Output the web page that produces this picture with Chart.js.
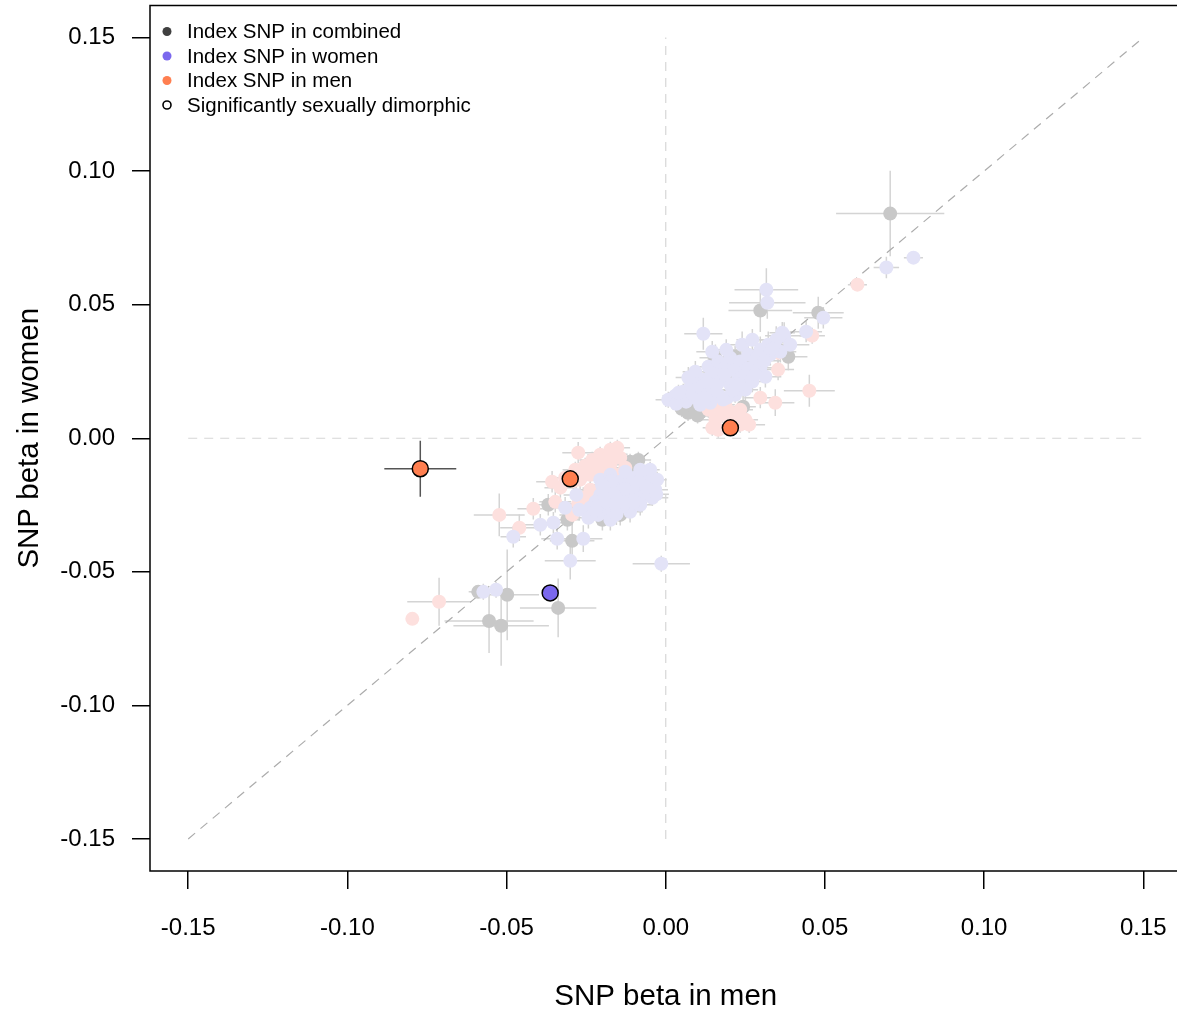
<!DOCTYPE html>
<html><head><meta charset="utf-8">
<script src="https://cdn.jsdelivr.net/npm/chart.js@4.4.1/dist/chart.umd.min.js"></script>
<style>html,body{margin:0;padding:0;overflow:hidden;background:#fff}canvas{display:block;position:absolute;left:0;top:-4px}</style>
</head><body>
<canvas id="c" width="1191" height="1019"></canvas>
<script>
// ---------- data (beta men, beta women, half-width men, half-width women) ----------
const tickValues = [-0.15, -0.10, -0.05, 0.00, 0.05, 0.10, 0.15];
const axisMin = -0.162, axisMax = 0.162;
const xTitle = 'SNP beta in men';
const yTitle = 'SNP beta in women';
const legendLabels = ['Index SNP in combined', 'Index SNP in women', 'Index SNP in men', 'Significantly sexually dimorphic'];
const legendColors = ['#404040', '#7b68ee', '#ff7f50', null];

const refDiagonal = [[-0.15, -0.15], [0.15, 0.15]];
const refVertical = [[0, -0.15], [0, 0.15]];
const refHorizontal = [[-0.15, 0], [0.15, 0]];

const combinedSNPs = [
  [0.0705, 0.0841, 0.017, 0.016], [0.0297, 0.0478, 0.010, 0.008], [0.0479, 0.0470, 0.008, 0.006],
  [0.0385, 0.0305, 0.006, 0.005], [0.0156, 0.0301, 0.005, 0.005], [0.0218, 0.0305, 0.004, 0.004],
  [0.0077, 0.0107, 0.004, 0.003], [0.0108, 0.0096, 0.004, 0.003], [0.0243, 0.0118, 0.004, 0.004],
  [0.0061, 0.0125, 0.003, 0.003], [0.0344, 0.0346, 0.005, 0.004], [0.0130, 0.0110, 0.003, 0.003],
  [0.0070, 0.0095, 0.003, 0.003], [0.0100, 0.0085, 0.003, 0.003], [0.0050, 0.0110, 0.003, 0.003],
  [-0.0112, -0.0088, 0.004, 0.003], [-0.0086, -0.0081, 0.004, 0.003], [-0.0199, -0.0305, 0.005, 0.004],
  [-0.0294, -0.0384, 0.007, 0.007], [-0.0369, -0.0249, 0.005, 0.004], [-0.0309, -0.0305, 0.004, 0.004],
  [-0.0143, -0.0287, 0.004, 0.004], [-0.0589, -0.0575, 0.003, 0.002], [-0.0498, -0.0586, 0.010, 0.017],
  [-0.0338, -0.0635, 0.012, 0.011], [-0.0555, -0.0684, 0.014, 0.012], [-0.0517, -0.0702, 0.015, 0.015],
  [-0.0050, -0.0140, 0.003, 0.003], [-0.0100, -0.0100, 0.003, 0.003]
];

const womenSNPs = [
  [0.0778, 0.0676, 0.003, 0.002], [0.0693, 0.0639, 0.004, 0.004], [0.0495, 0.0451, 0.006, 0.004],
  [0.0316, 0.0556, 0.010, 0.008], [0.0319, 0.0507, 0.012, 0.006], [0.0441, 0.0399, 0.005, 0.004],
  [0.0366, 0.0395, 0.004, 0.004], [0.0118, 0.0391, 0.006, 0.006],
  [0.0008, 0.0144, 0.004, 0.003], [0.0030, 0.0159, 0.004, 0.003], [0.0055, 0.0174, 0.004, 0.003],
  [0.0077, 0.0189, 0.003, 0.003], [0.0099, 0.0204, 0.004, 0.004], [0.0033, 0.0129, 0.003, 0.003],
  [0.0064, 0.0137, 0.003, 0.003], [0.0093, 0.0152, 0.004, 0.003], [0.0118, 0.0167, 0.004, 0.004],
  [0.0146, 0.0182, 0.004, 0.003], [0.0121, 0.0219, 0.005, 0.004], [0.0146, 0.0238, 0.004, 0.004],
  [0.0171, 0.0257, 0.005, 0.004], [0.0134, 0.0268, 0.005, 0.004], [0.0165, 0.0287, 0.004, 0.004],
  [0.0190, 0.0272, 0.004, 0.004], [0.0203, 0.0301, 0.005, 0.004], [0.0178, 0.0219, 0.004, 0.003],
  [0.0203, 0.0200, 0.004, 0.004], [0.0228, 0.0227, 0.004, 0.004], [0.0250, 0.0249, 0.005, 0.004],
  [0.0218, 0.0163, 0.004, 0.003], [0.0250, 0.0182, 0.004, 0.004], [0.0272, 0.0212, 0.005, 0.004],
  [0.0234, 0.0287, 0.005, 0.004], [0.0259, 0.0313, 0.005, 0.004], [0.0281, 0.0275, 0.005, 0.004],
  [0.0297, 0.0331, 0.005, 0.005], [0.0322, 0.0350, 0.006, 0.005], [0.0347, 0.0369, 0.005, 0.005],
  [0.0372, 0.0384, 0.006, 0.005], [0.0328, 0.0313, 0.005, 0.004], [0.0360, 0.0324, 0.005, 0.004],
  [0.0391, 0.0350, 0.006, 0.005], [0.0313, 0.0230, 0.005, 0.004], [0.0240, 0.0350, 0.006, 0.005],
  [0.0272, 0.0369, 0.005, 0.004], [0.0190, 0.0331, 0.005, 0.004], [0.0165, 0.0163, 0.004, 0.003],
  [0.0193, 0.0152, 0.004, 0.003], [0.0297, 0.0264, 0.005, 0.004], [0.0093, 0.0249, 0.004, 0.004],
  [0.0146, 0.0324, 0.005, 0.004], [0.0108, 0.0125, 0.003, 0.003], [0.0140, 0.0133, 0.003, 0.003],
  [0.0071, 0.0227, 0.004, 0.004], [0.0040, 0.0170, 0.003, 0.003], [0.0085, 0.0165, 0.004, 0.003],
  [0.0110, 0.0190, 0.004, 0.003], [0.0130, 0.0210, 0.004, 0.003], [0.0160, 0.0200, 0.004, 0.003],
  [0.0185, 0.0240, 0.004, 0.004], [0.0215, 0.0255, 0.004, 0.004], [0.0240, 0.0230, 0.004, 0.004],
  [0.0260, 0.0260, 0.005, 0.004], [0.0285, 0.0300, 0.005, 0.004], [0.0310, 0.0290, 0.005, 0.004],
  [0.0335, 0.0335, 0.005, 0.004], [0.0210, 0.0180, 0.004, 0.003], [0.0120, 0.0150, 0.003, 0.003],
  [0.0180, 0.0145, 0.004, 0.003], [0.0230, 0.0200, 0.004, 0.003], [0.0280, 0.0240, 0.005, 0.004],
  [-0.0479, -0.0369, 0.004, 0.004], [-0.0341, -0.0376, 0.005, 0.004], [-0.0300, -0.0459, 0.008, 0.007],
  [-0.0014, -0.0470, 0.009, 0.003], [-0.0259, -0.0376, 0.006, 0.005], [-0.0316, -0.0260, 0.004, 0.004],
  [-0.0272, -0.0268, 0.004, 0.004], [-0.0394, -0.0324, 0.005, 0.004], [-0.0353, -0.0316, 0.004, 0.004],
  [-0.0281, -0.0212, 0.004, 0.004], [-0.0573, -0.0575, 0.004, 0.003], [-0.0533, -0.0567, 0.004, 0.003],
  [-0.0049, -0.0163, 0.003, 0.003], [-0.0033, -0.0193, 0.004, 0.003], [-0.0064, -0.0148, 0.003, 0.003],
  [-0.0080, -0.0174, 0.003, 0.003], [-0.0096, -0.0148, 0.003, 0.003], [-0.0118, -0.0155, 0.004, 0.003],
  [-0.0143, -0.0163, 0.004, 0.003], [-0.0168, -0.0174, 0.004, 0.004], [-0.0190, -0.0193, 0.004, 0.004],
  [-0.0206, -0.0212, 0.004, 0.004], [-0.0221, -0.0238, 0.004, 0.004], [-0.0237, -0.0260, 0.005, 0.004],
  [-0.0243, -0.0298, 0.005, 0.004], [-0.0212, -0.0287, 0.004, 0.004], [-0.0181, -0.0268, 0.004, 0.004],
  [-0.0159, -0.0249, 0.004, 0.004], [-0.0127, -0.0230, 0.004, 0.003], [-0.0096, -0.0212, 0.004, 0.003],
  [-0.0064, -0.0212, 0.004, 0.003], [-0.0042, -0.0223, 0.005, 0.003], [-0.0112, -0.0275, 0.004, 0.004],
  [-0.0174, -0.0305, 0.004, 0.004], [-0.0206, -0.0155, 0.004, 0.003], [-0.0080, -0.0249, 0.004, 0.004],
  [-0.0149, -0.0200, 0.004, 0.003], [-0.0174, -0.0137, 0.003, 0.003], [-0.0127, -0.0125, 0.003, 0.003],
  [-0.0080, -0.0118, 0.003, 0.003], [-0.0049, -0.0118, 0.003, 0.003], [-0.0027, -0.0155, 0.003, 0.003],
  [-0.0100, -0.0180, 0.003, 0.003], [-0.0130, -0.0190, 0.004, 0.003], [-0.0160, -0.0215, 0.004, 0.003],
  [-0.0190, -0.0240, 0.004, 0.004], [-0.0220, -0.0270, 0.004, 0.004], [-0.0135, -0.0255, 0.004, 0.004],
  [-0.0100, -0.0240, 0.004, 0.003], [-0.0060, -0.0185, 0.003, 0.003], [-0.0030, -0.0210, 0.004, 0.003],
  [-0.0170, -0.0160, 0.003, 0.003], [-0.0200, -0.0175, 0.004, 0.003], [-0.0155, -0.0285, 0.004, 0.004]
];

const menSNPs = [
  [0.0602, 0.0575, 0.003, 0.002], [0.0451, 0.0178, 0.008, 0.006], [0.0344, 0.0133, 0.006, 0.005],
  [0.0297, 0.0152, 0.005, 0.004], [0.0262, 0.0051, 0.005, 0.003], [0.0353, 0.0257, 0.005, 0.004],
  [0.0353, 0.0320, 0.004, 0.004], [0.0460, 0.0384, 0.004, 0.003],
  [0.0134, 0.0107, 0.003, 0.003], [0.0156, 0.0069, 0.004, 0.003], [0.0178, 0.0088, 0.004, 0.003],
  [0.0218, 0.0077, 0.004, 0.003], [0.0234, 0.0107, 0.004, 0.003], [0.0250, 0.0069, 0.004, 0.003],
  [0.0146, 0.0039, 0.003, 0.003], [0.0187, 0.0125, 0.003, 0.003], [0.0165, 0.0032, 0.003, 0.003],
  [0.0234, 0.0051, 0.004, 0.003], [0.0200, 0.0100, 0.003, 0.003], [0.0170, 0.0110, 0.003, 0.003],
  [-0.0152, -0.0036, 0.004, 0.003], [-0.0174, -0.0043, 0.004, 0.003], [-0.0206, -0.0062, 0.004, 0.003],
  [-0.0231, -0.0081, 0.004, 0.003], [-0.0253, -0.0103, 0.004, 0.003], [-0.0275, -0.0054, 0.005, 0.004],
  [-0.0206, -0.0118, 0.004, 0.003], [-0.0237, -0.0137, 0.004, 0.003], [-0.0174, -0.0099, 0.004, 0.003],
  [-0.0143, -0.0073, 0.004, 0.003], [-0.0127, -0.0110, 0.004, 0.003], [-0.0269, -0.0155, 0.004, 0.004],
  [-0.0237, -0.0193, 0.004, 0.003], [-0.0284, -0.0118, 0.004, 0.003], [-0.0193, -0.0174, 0.004, 0.003],
  [-0.0221, -0.0219, 0.004, 0.003], [-0.0259, -0.0223, 0.004, 0.004], [-0.0331, -0.0185, 0.005, 0.004],
  [-0.0357, -0.0163, 0.005, 0.004], [-0.0316, -0.0148, 0.004, 0.003], [-0.0159, -0.0137, 0.004, 0.003],
  [-0.0275, -0.0245, 0.004, 0.004], [-0.0294, -0.0287, 0.004, 0.004], [-0.0347, -0.0238, 0.005, 0.004],
  [-0.0190, -0.0080, 0.004, 0.003], [-0.0220, -0.0100, 0.004, 0.003], [-0.0160, -0.0060, 0.004, 0.003],
  [-0.0250, -0.0130, 0.004, 0.003], [-0.0290, -0.0160, 0.004, 0.003],
  [-0.0523, -0.0287, 0.008, 0.008], [-0.0460, -0.0335, 0.006, 0.005], [-0.0416, -0.0264, 0.005, 0.004],
  [-0.0712, -0.0612, 0.010, 0.009], [-0.0796, -0.0676, 0.002, 0.002]
];

const dimorphicMenSNPs = [
  [0.0203, 0.0039, 0.002, 0.002], [-0.0300, -0.0152, 0.002, 0.002], [-0.0771, -0.0114, 0.0113, 0.0105]
];
const dimorphicWomenSNPs = [
  [-0.0363, -0.0579, 0.002, 0.002]
];

// ---------- helpers ----------
const toPts = arr => arr.map(d => ({x: d[0], y: d[1], ex: d[2], ey: d[3]}));
const toLine = arr => arr.map(d => ({x: d[0], y: d[1]}));
const FONT = '"Liberation Sans", Arial, Helvetica, sans-serif';

const errorBars = {
  id: 'errorBars',
  beforeDatasetsDraw(chart) {
    const {ctx} = chart;
    const xs = chart.scales.x, ys = chart.scales.y;
    const list = chart.data.datasets.filter(d => d.errorColor).sort((a, b) => a.errorLayer - b.errorLayer);
    ctx.save();
    ctx.beginPath();
    ctx.rect(chart.chartArea.left, chart.chartArea.top, chart.chartArea.width, chart.chartArea.height);
    ctx.clip();
    list.forEach(ds => {
      ctx.strokeStyle = ds.errorColor;
      ctx.lineWidth = ds.errorWidth;
      ds.data.forEach(p => {
        const px = xs.getPixelForValue(p.x), py = ys.getPixelForValue(p.y);
        ctx.beginPath();
        ctx.moveTo(xs.getPixelForValue(p.x - p.ex), py);
        ctx.lineTo(xs.getPixelForValue(p.x + p.ex), py);
        ctx.moveTo(px, ys.getPixelForValue(p.y - p.ey));
        ctx.lineTo(px, ys.getPixelForValue(p.y + p.ey));
        ctx.stroke();
      });
    });
    ctx.restore();
  }
};

const frameAndLegend = {
  id: 'frameAndLegend',
  afterDraw(chart) {
    const {ctx, chartArea: a} = chart;
    ctx.save();
    ctx.strokeStyle = '#000';
    ctx.lineWidth = 1.5;
    ctx.strokeRect(a.left, a.top, a.right - a.left, a.bottom - a.top);
    ctx.font = '20.5px ' + FONT;
    ctx.textBaseline = 'middle';
    ctx.textAlign = 'left';
    legendLabels.forEach((lab, i) => {
      const cy = a.top + 26 + i * 24.5;
      const cx = a.left + 17;
      ctx.beginPath();
      ctx.arc(cx, cy, 4.5, 0, Math.PI * 2);
      if (legendColors[i]) {
        ctx.fillStyle = legendColors[i];
        ctx.fill();
      } else {
        ctx.beginPath();
        ctx.lineWidth = 1.6;
        ctx.strokeStyle = '#000';
        ctx.arc(cx, cy, 4, 0, Math.PI * 2);
        ctx.stroke();
      }
      ctx.fillStyle = '#000';
      ctx.fillText(lab, a.left + 37, cy + 1);
    });
    ctx.restore();
  }
};

const refLineStyle = (color) => ({
  type: 'line', showLine: true, borderColor: color, borderWidth: 1.2, borderDash: [9, 7],
  pointRadius: 0, pointHoverRadius: 0, fill: false, order: 10
});

const scaleOpts = (title, isX) => ({
  type: 'linear', min: axisMin, max: axisMax,
  afterBuildTicks: s => { s.ticks = tickValues.map(v => ({value: v})); },
  afterFit: s => {
    if (isX) s.height = 144; else s.width = 150;
    s.paddingTop = 0; s.paddingBottom = 0; s.paddingLeft = 0; s.paddingRight = 0;
  },
  ticks: {
    color: '#000', font: {family: FONT, size: 24}, padding: isX ? 25 : 17,
    callback: v => Number(v).toFixed(2)
  },
  grid: {drawOnChartArea: false, drawTicks: true, tickLength: 18, color: '#000', lineWidth: 1.5},
  border: {display: false},
  title: {
    display: true, text: title, color: '#000', font: {family: FONT, size: 29.5},
    padding: isX ? {top: 0, bottom: 0} : {top: 12, bottom: 0}
  }
});

new Chart(document.getElementById('c'), {
  type: 'scatter',
  data: {
    datasets: [
      Object.assign({data: toLine(refDiagonal)}, refLineStyle('rgb(172,172,172)')),
      Object.assign({data: toLine(refVertical)}, refLineStyle('rgb(214,214,214)')),
      Object.assign({data: toLine(refHorizontal)}, refLineStyle('rgb(214,214,214)')),
      {data: toPts(combinedSNPs), pointRadius: 7, pointBackgroundColor: 'rgb(200,200,200)', pointBorderWidth: 0,
       errorColor: 'rgb(212,212,212)', errorWidth: 1.5, errorLayer: 0, order: 4},
      {data: toPts(menSNPs), pointRadius: 7, pointBackgroundColor: 'rgb(253,224,222)', pointBorderWidth: 0,
       errorColor: 'rgb(212,212,212)', errorWidth: 1.5, errorLayer: 0, order: 3},
      {data: toPts(womenSNPs), pointRadius: 7, pointBackgroundColor: 'rgb(227,227,247)', pointBorderWidth: 0,
       errorColor: 'rgb(212,212,212)', errorWidth: 1.5, errorLayer: 0, order: 2},
      {data: toPts(dimorphicMenSNPs), pointRadius: 8, pointBackgroundColor: '#ff7f50', pointBorderColor: '#000',
       pointBorderWidth: 1.5, errorColor: '#555', errorWidth: 1.5, errorLayer: 1, order: 1},
      {data: toPts(dimorphicWomenSNPs), pointRadius: 8, pointBackgroundColor: '#7b68ee', pointBorderColor: '#000',
       pointBorderWidth: 1.5, errorColor: '#555', errorWidth: 1.5, errorLayer: 1, order: 0}
    ]
  },
  options: {
    responsive: false, animation: false, devicePixelRatio: 1, events: [],
    layout: {padding: {top: 1, right: 1, left: 0, bottom: 0}},
    plugins: {legend: {display: false}, tooltip: {enabled: false}},
    scales: {x: scaleOpts(xTitle, true), y: scaleOpts(yTitle, false)}
  },
  plugins: [errorBars, frameAndLegend]
});
</script>
</body></html>
